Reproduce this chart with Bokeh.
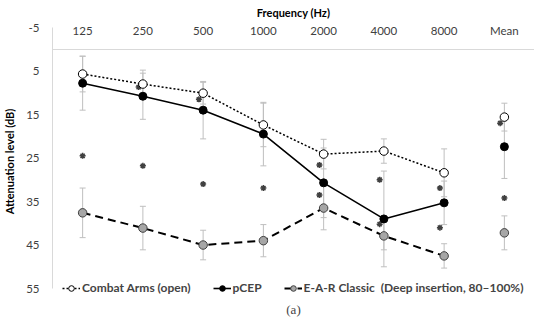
from bokeh.plotting import figure
from bokeh.models import (Range1d, FixedTicker, Whisker, TeeHead, ColumnDataSource,
                          Legend, LegendItem, Title)
from bokeh.transform import dodge
from bokeh.embed import file_html
from bokeh.resources import INLINE

# ---- data ----
cats = ["125", "250", "500", "1000", "2000", "4000", "8000", "Mean"]
combat = [5.7, 8.0, 10.1, 17.4, 24.1, 23.4, 28.4, 15.6]
combat_sd = [4.1, 3.2, 2.5, 5.0, 3.4, 2.8, 5.5, 3.2]
pcep = [7.8, 10.8, 14.0, 19.5, 30.7, 39.0, 35.3, 22.4]
pcep_sd = [6.2, 5.3, 6.6, 7.3, 8.0, 11.0, 5.0, 7.3]
ear = [37.6, 41.1, 45.0, 44.0, 36.5, 42.9, 47.5, 42.2]
ear_sd = [5.7, 5.0, 3.4, 3.7, 5.0, 3.2, 2.8, 3.9]
# significance markers
ast_side_cats = ["250", "500", "2000", "4000", "8000", "Mean", "2000", "4000", "8000"]
ast_side_vals = [8.7, 11.5, 26.6, 30.0, 31.9, 17.0, 33.5, 40.2, 41.0]
ast_mid_cats = ["125", "250", "500", "1000", "Mean"]
ast_mid_vals = [24.5, 26.8, 31.0, 31.9, 34.2]
y_ticks = [-5, 5, 15, 25, 35, 45, 55]
y_min, y_max = -5, 55

series_names = ["Combat Arms (open)", "pCEP", "E-A-R Classic  (Deep insertion, 80\u2013100%)"]
panel_caption = "(a)"

FONT = "Lato"
xs = [i + 0.5 for i in range(len(cats))]
n_line = len(cats) - 1  # Mean is not connected

p = figure(width=534, height=320, output_backend="svg", toolbar_location=None,
           x_range=Range1d(0, len(cats)), y_range=Range1d(y_max + 1.6, y_min),
           x_axis_location="above", min_border_left=43, min_border_right=0,
           min_border_top=27, min_border_bottom=0)
p.outline_line_color = None
p.background_fill_color = "white"
p.border_fill_color = "white"
p.xgrid.visible = False
p.ygrid.ticker = FixedTicker(ticks=[0])
p.ygrid.grid_line_color = "#d9d9d9"
p.ygrid.grid_line_width = 1

xa = p.xaxis[0]
xa.ticker = FixedTicker(ticks=xs)
xa.major_label_overrides = {x: c for x, c in zip(xs, cats)}
xa.axis_line_color = None
xa.major_tick_line_color = None
xa.minor_tick_line_color = None
xa.major_tick_out = 0
xa.major_tick_in = 0
xa.major_label_standoff = -9
xa.major_label_text_font = FONT
xa.major_label_text_font_size = "11.5px"
xa.major_label_text_color = "#404040"
xa.axis_label = "Frequency (Hz)"
xa.axis_label_text_font = FONT
xa.axis_label_text_font_style = "bold"
xa.axis_label_text_font_size = "11px"
xa.axis_label_text_color = "#000000"
xa.axis_label_standoff = 2

ya = p.yaxis[0]
ya.ticker = FixedTicker(ticks=y_ticks)
ya.bounds = (y_min, y_max)
ya.major_label_overrides = {t: str(t) for t in y_ticks}
ya.axis_line_color = "#d9d9d9"
ya.major_tick_line_color = None
ya.minor_tick_line_color = None
ya.major_tick_out = 0
ya.major_tick_in = 0
ya.major_label_standoff = 13
ya.major_label_text_font = FONT
ya.major_label_text_font_size = "11.5px"
ya.major_label_text_color = "#404040"
ya.axis_label = "Attenuation level (dB)"
ya.axis_label_text_font = FONT
ya.axis_label_text_font_style = "bold"
ya.axis_label_text_font_size = "11px"
ya.axis_label_text_color = "#000000"
ya.axis_label_standoff = 7

# error bars
for vals, sds in [(combat, combat_sd), (pcep, pcep_sd), (ear, ear_sd)]:
    src = ColumnDataSource(dict(x=xs, lo=[v - s for v, s in zip(vals, sds)],
                                hi=[v + s for v, s in zip(vals, sds)]))
    w = Whisker(base="x", lower="lo", upper="hi", source=src, dimension="height",
                line_color="#bfbfbf", line_width=1,
                upper_head=TeeHead(size=6, line_color="#bfbfbf", line_width=1),
                lower_head=TeeHead(size=6, line_color="#bfbfbf", line_width=1),
                level="underlay")
    p.add_layout(w)

# asterisks
src_side = ColumnDataSource(dict(x=[cats.index(c) + 0.5 for c in ast_side_cats], y=ast_side_vals))
src_mid = ColumnDataSource(dict(x=[cats.index(c) + 0.5 for c in ast_mid_cats], y=ast_mid_vals))
p.scatter(x=dodge("x", -0.07), y="y", source=src_side, marker="asterisk", size=6,
          line_color="#404040", line_width=1.5)
p.scatter(x="x", y="y", source=src_mid, marker="asterisk", size=6,
          line_color="#404040", line_width=1.5)

# lines + markers
l1 = p.line(xs[:n_line], combat[:n_line], line_color="black", line_width=1.5, line_dash="2 2")
m1 = p.scatter(xs, combat, size=8.5, fill_color="white", line_color="black", line_width=1)
l2 = p.line(xs[:n_line], pcep[:n_line], line_color="black", line_width=1.6)
m2 = p.scatter(xs, pcep, size=8, fill_color="black", line_color="black", line_width=1)
l3 = p.line(xs[:n_line], ear[:n_line], line_color="black", line_width=2, line_dash="8 5")
m3 = p.scatter(xs, ear, size=8.5, fill_color="#a6a6a6", line_color="#404040", line_width=1)

legend = Legend(items=[LegendItem(label=series_names[0], renderers=[l1, m1]),
                       LegendItem(label=series_names[1], renderers=[l2, m2]),
                       LegendItem(label=series_names[2], renderers=[l3, m3])],
                orientation="horizontal", location=(10, 0),
                background_fill_alpha=0, border_line_color=None,
                label_text_font=FONT, label_text_font_style="bold",
                label_text_font_size="12px", glyph_width=18, glyph_height=14,
                label_height=14, label_standoff=2, spacing=22, padding=0, margin=0)
p.add_layout(legend)

p.add_layout(Title(text=panel_caption, align="center", text_font="Liberation Serif",
                   text_font_size="13px", text_font_style="normal", standoff=8), "below")

open("out.html", "w").write(file_html(p, INLINE))
